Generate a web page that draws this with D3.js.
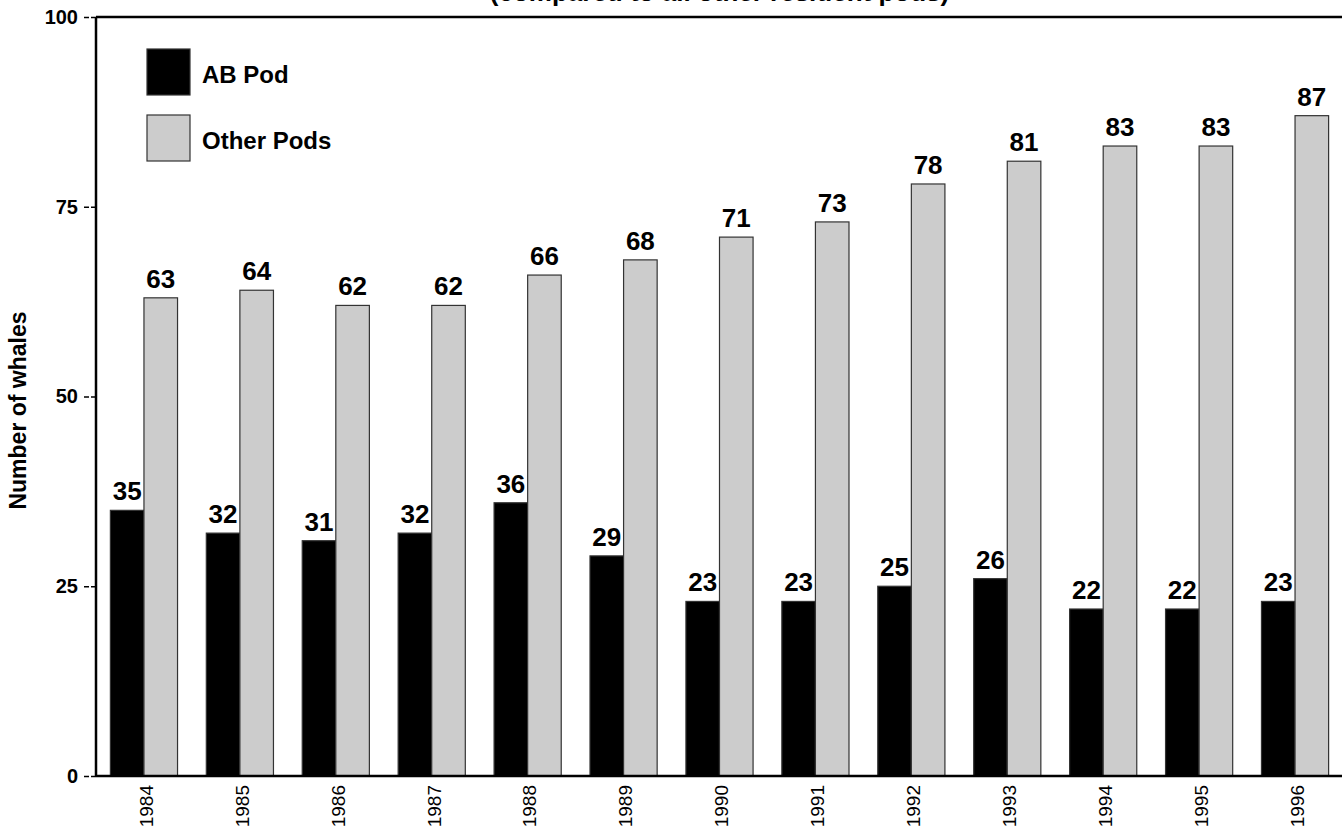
<!DOCTYPE html>
<html>
<head>
<meta charset="utf-8">
<script src="https://cdn.jsdelivr.net/npm/d3@7"></script>
<style>
  html, body { margin: 0; padding: 0; background: #fff; overflow: hidden; }
  svg { display: block; font-family: "Liberation Sans", Arial, sans-serif; }
</style>
</head>
<body>
<svg id="chart" width="1342" height="829"></svg>
<script>
// Resident whale counts per year: AB pod vs. all other resident pods
const years = ["1984","1985","1986","1987","1988","1989","1990","1991","1992","1993","1994","1995","1996"];
const abPod = [35, 32, 31, 32, 36, 29, 23, 23, 25, 26, 22, 22, 23];
const otherPods = [63, 64, 62, 62, 66, 68, 71, 73, 78, 81, 83, 83, 87];
const seriesNames = ["AB Pod", "Other Pods"];
const seriesColors = ["#000000", "#cccccc"];
const yTicks = [0, 25, 50, 75, 100];

const svg = d3.select("#chart");
const plotLeft = 96, plotRight = 1343, plotTop = 17, plotBottom = 776;

const x = d3.scaleBand().domain(years).range([plotLeft, plotRight]).paddingInner(0.3).paddingOuter(0.15);
const xSub = d3.scaleBand().domain(seriesNames).range([0, x.bandwidth()]);
const y = d3.scaleLinear().domain([0, 100]).range([plotBottom, plotTop]);

const rows = years.map((yr, i) => ({ year: yr, values: [abPod[i], otherPods[i]] }));

// Subtitle line (partly above the frame)
svg.append("text")
  .attr("x", (plotLeft + plotRight) / 2)
  .attr("y", 1)
  .attr("text-anchor", "middle")
  .attr("font-size", 26)
  .attr("font-weight", "bold")
  .text("(compared to all other resident pods)");

// Bars
const groups = svg.append("g").selectAll("g")
  .data(rows).join("g")
  .attr("transform", d => `translate(${x(d.year)},0)`);

groups.selectAll("rect")
  .data(d => d.values.map((v, k) => ({ key: seriesNames[k], value: v, k })))
  .join("rect")
  .attr("x", d => xSub(d.key))
  .attr("y", d => y(d.value))
  .attr("width", xSub.bandwidth())
  .attr("height", d => y(0) - y(d.value))
  .attr("fill", d => seriesColors[d.k])
  .attr("stroke", "#333")
  .attr("stroke-width", 1.2);

// Value labels
groups.selectAll("text")
  .data(d => d.values.map((v, k) => ({ key: seriesNames[k], value: v })))
  .join("text")
  .attr("x", d => xSub(d.key) + xSub.bandwidth() / 2)
  .attr("y", d => y(d.value) - 10)
  .attr("text-anchor", "middle")
  .attr("font-size", 26)
  .attr("font-weight", "bold")
  .text(d => d.value);

// Y axis
const yAxis = svg.append("g")
  .attr("transform", `translate(${plotLeft},0)`)
  .call(d3.axisLeft(y).tickValues(yTicks).tickSize(13).tickPadding(5));
yAxis.select(".domain").remove();
yAxis.selectAll(".tick line").attr("stroke", "#000").attr("stroke-width", 1.5).attr("stroke-dasharray", "5,2");
yAxis.selectAll(".tick text")
  .attr("font-size", 20)
  .attr("font-weight", "bold")
  .attr("fill", "#000")
  .attr("font-family", "Liberation Sans, Arial, sans-serif");

// X axis labels
const xAxis = svg.append("g")
  .attr("transform", `translate(0,${plotBottom})`)
  .call(d3.axisBottom(x).tickSize(0).tickPadding(0));
xAxis.select(".domain").remove();
xAxis.selectAll(".tick text")
  .attr("font-size", 19)
  .attr("fill", "#000")
  .attr("font-family", "Liberation Sans, Arial, sans-serif")
  .attr("text-anchor", "end")
  .attr("transform", "rotate(-90)")
  .attr("x", -9)
  .attr("y", 2)
  .attr("dy", "0.36em");

// Frame lines: left, top, bottom
const frame = svg.append("g").attr("stroke", "#000").attr("stroke-width", 2.5);
frame.append("line").attr("x1", plotLeft).attr("x2", plotLeft).attr("y1", plotTop).attr("y2", plotBottom);
frame.append("line").attr("x1", plotLeft).attr("x2", 1342).attr("y1", plotTop).attr("y2", plotTop);
frame.append("line").attr("x1", plotLeft).attr("x2", 1342).attr("y1", plotBottom).attr("y2", plotBottom);

// Y axis title
svg.append("text")
  .attr("transform", `translate(26,${(plotTop + plotBottom) / 2 + 14}) rotate(-90)`)
  .attr("text-anchor", "middle")
  .attr("font-size", 23)
  .attr("font-weight", "bold")
  .text("Number of whales");

// Legend
const legend = svg.append("g");
seriesNames.forEach((name, k) => {
  const ly = 49 + k * 66;
  legend.append("rect")
    .attr("x", 147).attr("y", ly)
    .attr("width", 43).attr("height", 46)
    .attr("fill", seriesColors[k])
    .attr("stroke", "#333").attr("stroke-width", 1.2);
  legend.append("text")
    .attr("x", 202).attr("y", ly + 34)
    .attr("font-size", 24)
    .attr("font-weight", "bold")
    .text(name);
});
</script>
</body>
</html>
